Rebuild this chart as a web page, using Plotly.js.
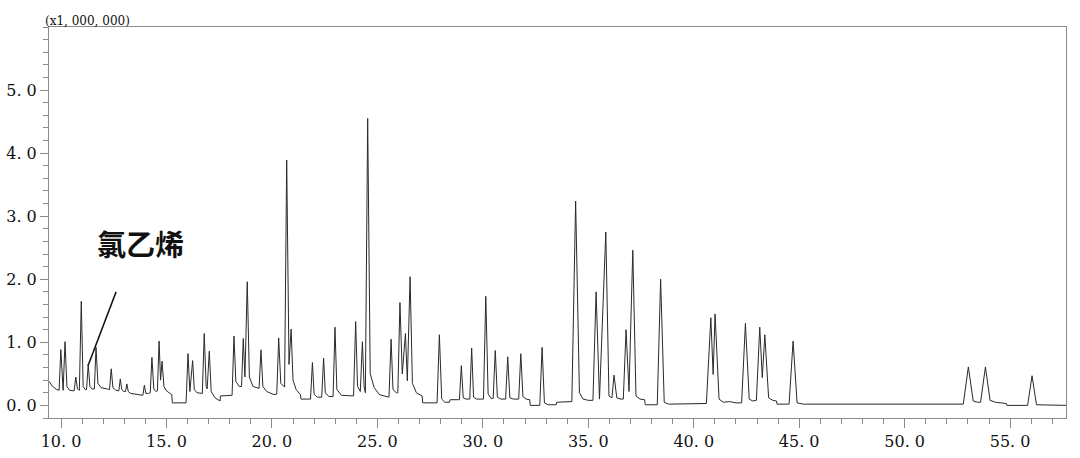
<!DOCTYPE html>
<html>
<head>
<meta charset="utf-8">
<script src="https://cdn.plot.ly/plotly-3.0.1.min.js"></script>
<style>html,body{margin:0;padding:0;background:#fff;}#chart{width:1080px;height:458px;}</style>
</head>
<body>
<div id="chart"></div>
<script>
// Chromatogram trace vertices (retention time, min ; signal x1,000,000)
const retentionTime = [
9.43,9.6,9.8,9.91,9.99,10.07,10.10,10.19,10.28,10.40,10.62,10.70,10.78,10.87,10.96,11.05,11.15,11.21,11.29,11.37,
11.47,11.58,11.66,11.75,11.90,12.20,12.30,12.38,12.46,12.60,12.74,12.81,12.88,12.98,13.06,13.12,13.19,13.30,13.60,13.88,
13.95,14.02,14.15,14.23,14.31,14.40,14.50,14.57,14.65,14.72,14.79,14.88,15.00,15.25,15.28,15.93,16.02,16.11,16.24,16.32,
16.45,16.70,16.79,16.88,16.93,17.03,17.12,17.30,17.54,17.56,18.11,18.20,18.29,18.45,18.56,18.64,18.72,18.83,18.93,19.10,
19.39,19.48,19.57,19.75,20.10,20.23,20.32,20.42,20.60,20.70,20.81,20.91,21.00,21.15,21.35,21.38,21.83,21.92,22.00,22.15,
22.36,22.45,22.53,22.70,22.90,22.99,23.08,23.30,23.87,23.97,24.06,24.19,24.29,24.37,24.43,24.54,24.66,24.85,25.10,25.55,
25.65,25.74,25.90,25.97,26.07,26.18,26.33,26.42,26.55,26.66,26.85,27.12,27.15,27.83,27.94,28.05,28.20,28.42,28.45,28.89,
28.98,29.07,29.20,29.38,29.47,29.56,29.70,30.03,30.14,30.25,30.40,30.49,30.59,30.69,30.85,31.08,31.18,31.28,31.45,31.70,
31.80,31.90,32.05,32.22,32.25,32.70,32.81,32.92,33.10,33.48,33.50,34.22,34.40,34.58,34.75,35.00,35.22,35.37,35.53,35.83,
35.98,36.12,36.22,36.35,36.55,36.66,36.79,36.93,37.11,37.26,37.45,37.67,37.70,38.27,38.43,38.60,38.80,40.60,40.81,40.92,
41.01,41.20,41.40,41.70,42.00,42.27,42.45,42.63,42.80,42.97,43.13,43.25,43.37,43.55,43.75,43.92,43.95,44.52,44.71,44.90,
45.20,52.78,53.02,53.25,53.45,53.60,53.83,54.05,54.30,54.82,54.85,55.83,56.04,56.25,57.65
];
const signal = [
0.38,0.30,0.25,0.24,0.885,0.30,0.24,1.01,0.30,0.24,0.23,0.45,0.26,0.24,1.65,0.30,0.25,0.25,0.65,0.30,
0.26,0.26,0.92,0.35,0.28,0.26,0.25,0.58,0.28,0.24,0.23,0.42,0.25,0.22,0.22,0.34,0.22,0.19,0.17,0.16,
0.32,0.19,0.19,0.20,0.76,0.26,0.22,0.23,1.02,0.40,0.70,0.30,0.23,0.17,0.04,0.04,0.82,0.22,0.71,0.25,
0.20,0.19,1.14,0.30,0.26,0.86,0.22,0.12,0.07,0.15,0.16,1.10,0.38,0.30,0.30,1.06,0.45,1.96,0.45,0.30,
0.27,0.88,0.30,0.22,0.17,0.18,1.07,0.35,0.29,3.89,0.65,1.21,0.40,0.25,0.17,0.10,0.10,0.68,0.18,0.13,
0.13,0.75,0.20,0.14,0.14,1.24,0.25,0.16,0.15,1.33,0.30,0.22,1.01,0.30,0.20,4.55,0.50,0.28,0.17,0.13,
1.05,0.25,0.20,0.20,1.63,0.50,1.14,0.39,2.04,0.35,0.20,0.15,0.04,0.04,1.12,0.10,0.05,0.05,0.09,0.09,
0.63,0.12,0.10,0.10,0.91,0.13,0.10,0.10,1.73,0.18,0.11,0.11,0.87,0.13,0.10,0.10,0.77,0.12,0.10,0.10,
0.82,0.14,0.10,0.09,0.00,0.00,0.92,0.04,0.01,0.01,0.05,0.06,3.24,0.20,0.10,0.08,0.08,1.80,0.10,2.75,
0.15,0.12,0.48,0.12,0.10,0.10,1.20,0.22,2.46,0.15,0.10,0.09,0.01,0.01,2.00,0.05,0.02,0.03,1.39,0.49,
1.45,0.10,0.05,0.06,0.04,0.04,1.30,0.10,0.07,0.08,1.24,0.44,1.12,0.12,0.08,0.07,0.02,0.02,1.02,0.04,
0.02,0.02,0.61,0.07,0.05,0.05,0.61,0.08,0.05,0.03,0.00,0.00,0.47,0.01,0.00
];
const xTickValues = [10,15,20,25,30,35,40,45,50,55];
const xTickLabels = ["10. 0","15. 0","20. 0","25. 0","30. 0","35. 0","40. 0","45. 0","50. 0","55. 0"];
const yTickValues = [0,1,2,3,4,5];
const yTickLabels = ["0. 0","1. 0","2. 0","3. 0","4. 0","5. 0"];
const scaleLabel = "(x1, 000, 000)";
const peakLabel = "氯乙烯";
const peakLabelPos = [13.76, 2.57];
const pointerFrom = [12.61, 1.80];
const pointerTo = [11.28, 0.63];

const axisColor = '#8a8a8a';
const serif = 'DejaVu Serif, Liberation Serif, serif';
const tickFont = {family: serif, size: 16, color: '#111'};

const trace = {
  x: retentionTime, y: signal, type: 'scatter', mode: 'lines',
  line: {color: '#2a2a2a', width: 1}, hoverinfo: 'skip'
};

const layout = {
  width: 1080, height: 458,
  margin: {l: 49, r: 14, t: 27, b: 40},
  paper_bgcolor: '#fff', plot_bgcolor: '#fff',
  showlegend: false,
  xaxis: {
    range: [9.43, 57.65], showgrid: false, zeroline: false,
    showline: true, linecolor: axisColor, linewidth: 1, mirror: true,
    ticks: 'outside', ticklen: 9, tickcolor: axisColor, tickwidth: 1,
    tickmode: 'array', tickvals: xTickValues, ticktext: xTickLabels,
    tickfont: tickFont,
    minor: {tickmode: 'linear', tick0: 0, dtick: 1, ticks: 'outside', ticklen: 5, tickcolor: axisColor, tickwidth: 1, showgrid: false}
  },
  yaxis: {
    range: [-0.2, 6.0], showgrid: false, zeroline: false,
    showline: true, linecolor: axisColor, linewidth: 1, mirror: true,
    ticks: 'outside', ticklen: 8, tickcolor: axisColor, tickwidth: 1,
    tickmode: 'array', tickvals: yTickValues, ticktext: yTickLabels,
    tickfont: tickFont,
    minor: {tickmode: 'linear', tick0: 0, dtick: 0.2, ticks: 'outside', ticklen: 5, tickcolor: axisColor, tickwidth: 1, showgrid: false}
  },
  shapes: [{
    type: 'line', xref: 'x', yref: 'y',
    x0: pointerFrom[0], y0: pointerFrom[1], x1: pointerTo[0], y1: pointerTo[1],
    line: {color: '#111', width: 1.5}
  }],
  annotations: [
    {text: scaleLabel, xref: 'paper', yref: 'paper', x: -0.006, y: 1, xanchor: 'left', yanchor: 'bottom',
     showarrow: false, font: {family: serif, size: 12, color: '#111'}, yshift: -3},
    {text: '<b>' + peakLabel + '</b>', xref: 'x', yref: 'y', x: peakLabelPos[0], y: peakLabelPos[1],
     xanchor: 'center', yanchor: 'middle', showarrow: false,
     font: {family: 'Noto Sans CJK SC, sans-serif', size: 29, color: '#111'}}
  ]
};

Plotly.newPlot('chart', [trace], layout, {displayModeBar: false, staticPlot: true});
</script>
</body>
</html>
